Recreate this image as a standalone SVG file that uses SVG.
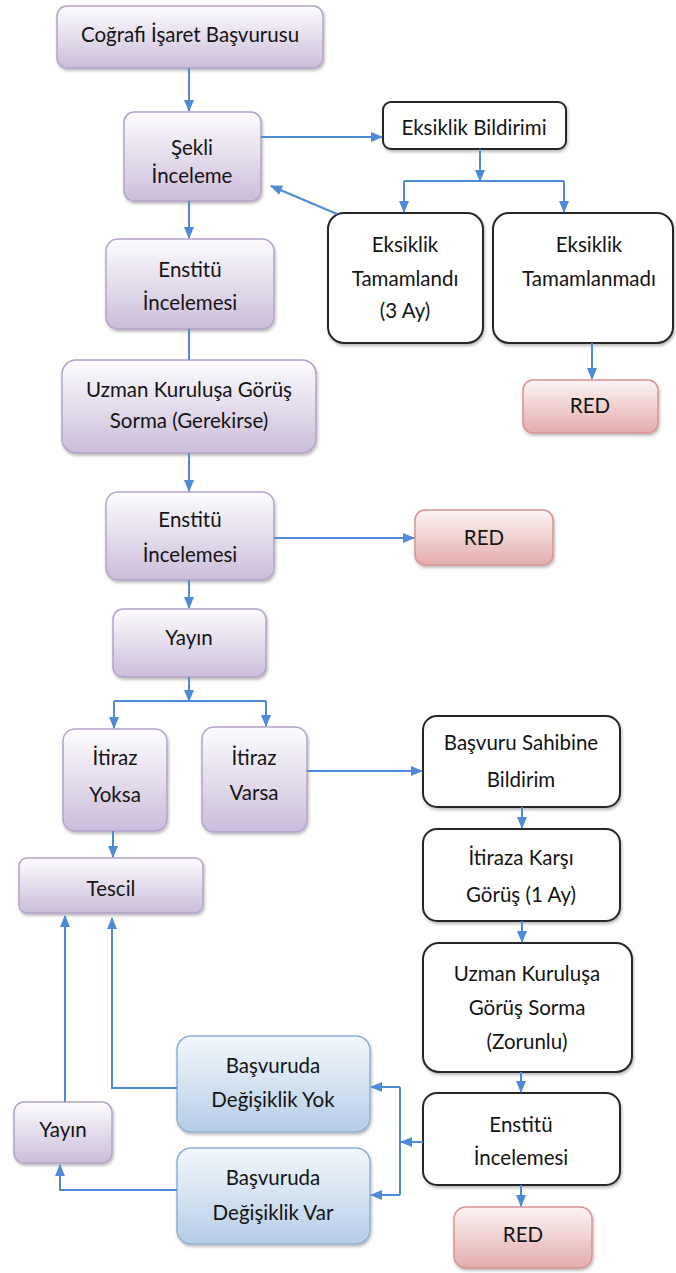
<svg xmlns="http://www.w3.org/2000/svg" width="676" height="1273" viewBox="0 0 676 1273">
<defs>
<linearGradient id="gp" x1="0" y1="0" x2="0" y2="1"><stop offset="0" stop-color="#fdfcfe"/><stop offset="1" stop-color="#cbbddb"/></linearGradient>
<linearGradient id="gr" x1="0" y1="0" x2="0" y2="1"><stop offset="0" stop-color="#fdf4f4"/><stop offset="1" stop-color="#e3acac"/></linearGradient>
<linearGradient id="gb" x1="0" y1="0" x2="0" y2="1"><stop offset="0" stop-color="#f3f8fc"/><stop offset="1" stop-color="#b5cde7"/></linearGradient>
<filter id="sh" x="-10%" y="-10%" width="130%" height="140%"><feDropShadow dx="1" dy="2" stdDeviation="1.5" flood-color="#000" flood-opacity="0.28"/></filter>
<marker id="ah" markerUnits="userSpaceOnUse" markerWidth="12" markerHeight="12" viewBox="0 0 12 12" refX="11" refY="6" orient="auto"><path d="M0,1 L12,6 L0,11 Z" fill="#4f8ad6"/></marker>
</defs>
<style>
.p{fill:url(#gp);stroke:#b4a3c9;stroke-width:1.5;filter:url(#sh)}
.r{fill:url(#gr);stroke:#d69493;stroke-width:1.5;filter:url(#sh)}
.b{fill:url(#gb);stroke:#90b0d6;stroke-width:1.5;filter:url(#sh)}
.w{fill:#fff;stroke:#262626;stroke-width:2;filter:url(#sh)}
text{font-family:Lato,"Liberation Sans",sans-serif;font-size:20.5px;fill:#141414;text-anchor:middle}
.c path{fill:none;stroke:#4f8ad6;stroke-width:2}
.c .a{marker-end:url(#ah)}
</style>
<g id="n1"><rect class="p" x="57" y="6" width="266" height="62" rx="10"/><text x="190" y="42">Coğrafi İşaret Başvurusu</text></g>
<g id="n2"><rect class="p" x="124" y="112" width="137" height="89" rx="10"/><text x="192" y="155">Şekli</text><text x="192" y="183">İnceleme</text></g>
<g id="n3"><rect class="w" x="383" y="102" width="183" height="47" rx="8"/><text x="474" y="135">Eksiklik Bildirimi</text></g>
<g id="n4"><rect class="w" x="328" y="213" width="155" height="130" rx="16"/><text x="405" y="252">Eksiklik</text><text x="405" y="286">Tamamlandı</text><text x="405" y="318">(3 Ay)</text></g>
<g id="n5"><rect class="w" x="493" y="213" width="180" height="130" rx="16"/><text x="589" y="252">Eksiklik</text><text x="589" y="286">Tamamlanmadı</text></g>
<g id="n6"><rect class="r" x="523" y="380" width="135" height="53" rx="10"/><text x="590" y="413">RED</text></g>
<g id="n7"><rect class="p" x="106" y="239" width="168" height="90" rx="12"/><text x="190" y="277">Enstitü</text><text x="190" y="310">İncelemesi</text></g>
<g id="n8"><rect class="p" x="62" y="360" width="254" height="93" rx="14"/><text x="189" y="397">Uzman Kuruluşa Görüş</text><text x="189" y="428">Sorma (Gerekirse)</text></g>
<g id="n9"><rect class="p" x="106" y="492" width="168" height="88" rx="12"/><text x="190" y="527">Enstitü</text><text x="190" y="562">İncelemesi</text></g>
<g id="n10"><rect class="r" x="415" y="510" width="138" height="55" rx="10"/><text x="484" y="545">RED</text></g>
<g id="n11"><rect class="p" x="113" y="609" width="153" height="68" rx="10"/><text x="189" y="645">Yayın</text></g>
<g id="n12"><rect class="p" x="63" y="729" width="104" height="102" rx="12"/><text x="115" y="765">İtiraz</text><text x="115" y="802">Yoksa</text></g>
<g id="n13"><rect class="p" x="202" y="727" width="105" height="105" rx="12"/><text x="254" y="765">İtiraz</text><text x="254" y="800">Varsa</text></g>
<g id="n14"><rect class="w" x="423" y="716" width="197" height="91" rx="14"/><text x="521" y="750">Başvuru Sahibine</text><text x="521" y="787">Bildirim</text></g>
<g id="n15"><rect class="p" x="19" y="858" width="184" height="55" rx="8"/><text x="111" y="896">Tescil</text></g>
<g id="n16"><rect class="w" x="423" y="829" width="197" height="92" rx="14"/><text x="521" y="865">İtiraza Karşı</text><text x="521" y="902">Görüş (1 Ay)</text></g>
<g id="n17"><rect class="w" x="423" y="943" width="209" height="129" rx="16"/><text x="527" y="981">Uzman Kuruluşa</text><text x="527" y="1015">Görüş Sorma</text><text x="527" y="1049">(Zorunlu)</text></g>
<g id="n18"><rect class="w" x="423" y="1093" width="197" height="92" rx="14"/><text x="521" y="1132">Enstitü</text><text x="521" y="1165">İncelemesi</text></g>
<g id="n19"><rect class="r" x="454" y="1207" width="138" height="61" rx="12"/><text x="523" y="1242">RED</text></g>
<g id="n20"><rect class="b" x="177" y="1036" width="193" height="96" rx="14"/><text x="273" y="1073">Başvuruda</text><text x="273" y="1107">Değişiklik Yok</text></g>
<g id="n21"><rect class="b" x="177" y="1148" width="193" height="96" rx="14"/><text x="273" y="1185">Başvuruda</text><text x="273" y="1220">Değişiklik Var</text></g>
<g id="n22"><rect class="p" x="14" y="1102" width="98" height="61" rx="10"/><text x="63" y="1137">Yayın</text></g>
<g id="connectors" class="c">
<path class="a" d="M189 68 V111"/>
<path class="a" d="M261 137 H382"/>
<path class="a" d="M480 149 V181"/>
<path d="M404 181 H564"/>
<path class="a" d="M404 181 V212"/>
<path class="a" d="M564 181 V212"/>
<path class="a" d="M337 214 L271 186"/>
<path class="a" d="M189 201 V238"/>
<path class="a" d="M592 343 V379"/>
<path d="M189 329 V360"/>
<path class="a" d="M189 453 V491"/>
<path class="a" d="M274 538 H414"/>
<path class="a" d="M189 580 V608"/>
<path class="a" d="M189 677 V701"/>
<path d="M114 701 H266"/>
<path class="a" d="M114 701 V728"/>
<path class="a" d="M266 701 V726"/>
<path class="a" d="M307 771 H422"/>
<path class="a" d="M522 807 V828"/>
<path class="a" d="M113 831 V857"/>
<path class="a" d="M522 921 V942"/>
<path class="a" d="M521 1072 V1092"/>
<path class="a" d="M521 1185 V1206"/>
<path class="a" d="M423 1142 H401"/>
<path d="M400 1087 V1195"/>
<path class="a" d="M400 1087 H371"/>
<path class="a" d="M400 1195 H371"/>
<path class="a" d="M177 1088 H112 V918"/>
<path class="a" d="M65 1102 V916"/>
<path class="a" d="M177 1190 H60 V1165"/>
</g>
</svg>
